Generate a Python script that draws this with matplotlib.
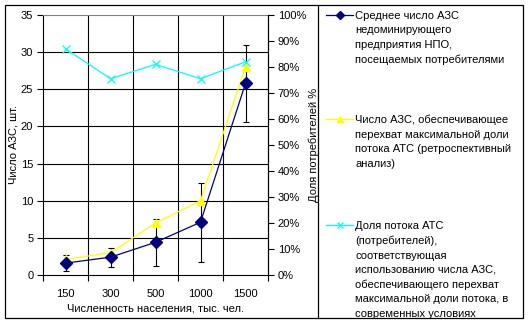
import matplotlib
matplotlib.use("Agg")
import matplotlib.pyplot as plt
from matplotlib.lines import Line2D
from matplotlib.ticker import FuncFormatter, FixedLocator

plt.rcParams['font.family'] = ['Liberation Sans', 'DejaVu Sans']
plt.rcParams['font.size'] = 8

categories = ["150", "300", "500", "1000", "1500"]
avg_stations = [1.6, 2.4, 4.4, 7.1, 25.8]
avg_stations_err = [1.1, 1.3, 3.2, 5.3, 5.2]
max_capture_stations = [2.1, 3.0, 7.0, 10.0, 28.0]
flow_share = [0.87, 0.755, 0.81, 0.755, 0.82]

legend_labels = [
    "Среднее число АЗС\nнедоминирующего\nпредприятия НПО,\nпосещаемых потребителями",
    "Число АЗС, обеспечивающее\nперехват максимальной доли\nпотока АТС (ретроспективный\nанализ)",
    "Доля потока АТС\n(потребителей),\nсоответствующая\nиспользованию числа АЗС,\nобеспечивающего перехват\nмаксимальной доли потока, в\nсовременных условиях",
]

W, H = 529, 325
fig = plt.figure(figsize=(W / 100, H / 100), dpi=100)
fig.patch.set_facecolor("white")

ax = fig.add_axes([43 / W, (H - 275) / H, (268 - 43) / W, (275 - 15) / H])
x = list(range(len(categories)))

ax.set_xlim(-0.5, len(categories) - 0.5)
ax.set_ylim(0, 35)
ax.set_yticks(range(0, 36, 5))
ax.set_xticks(x)
ax.set_xticklabels(categories)
ax.xaxis.set_minor_locator(FixedLocator([i - 0.5 for i in range(len(categories) + 1)]))
ax.tick_params(axis="x", which="major", length=0, pad=10)
ax.tick_params(axis="x", which="minor", length=4, width=0.8, direction="out")
ax.tick_params(axis="y", length=4, width=0.8, direction="out", pad=3)

for yv in range(5, 35, 5):
    ax.axhline(yv, color="black", lw=0.8, zorder=1)
for xv in [i + 0.5 for i in range(len(categories) - 1)]:
    ax.axvline(xv, color="black", lw=0.8, zorder=1)

for s in ["left", "right", "bottom"]:
    ax.spines[s].set_color("black")
    ax.spines[s].set_linewidth(0.8)
ax.spines["top"].set_color("#808080")
ax.spines["top"].set_linewidth(0.8)

ax.errorbar(x, avg_stations, yerr=avg_stations_err, fmt="none", ecolor="black",
            elinewidth=0.8, capsize=2.5, capthick=0.8, zorder=3)
ax.plot(x, max_capture_stations, color="#FFFF00", lw=0.9, marker="^", ms=6,
        mfc="#FFFF00", mec="#FFFF00", zorder=4)
ax.plot(x, avg_stations, color="#000080", lw=0.9, marker="D", ms=6,
        mfc="#000080", mec="#000080", zorder=5)

ax.set_xlabel("Численность населения, тыс. чел.", labelpad=3)
ax.set_ylabel("Число АЗС, шт.", labelpad=2)

ax2 = ax.twinx()
ax2.set_ylim(0, 1)
ax2.set_yticks([i / 10 for i in range(11)])
ax2.yaxis.set_major_formatter(FuncFormatter(lambda v, p: f"{round(v * 100)}%"))
ax2.tick_params(axis="y", length=4, width=0.8, direction="out", pad=3)
ax2.spines["top"].set_visible(False)
ax2.spines["left"].set_visible(False)
ax2.spines["bottom"].set_visible(False)
ax2.spines["right"].set_linewidth(0.8)
ax2.plot(x, flow_share, color="#00FFFF", lw=0.9, marker="x", ms=6, mew=0.9, zorder=4)
ax2.set_ylabel("Доля потребителей %", labelpad=2)

# outer frame and legend divider
fig.add_artist(plt.Rectangle((5 / W, 1 - 318 / H), (523 - 5) / W, (318 - 5) / H,
                             transform=fig.transFigure, fill=False, ec="black", lw=0.9))
fig.add_artist(Line2D([318 / W, 318 / W], [1 - 5 / H, 1 - 318 / H],
                      transform=fig.transFigure, color="black", lw=0.9))

# legend entries
styles = [
    dict(color="#000080", marker="D", ms=4.5, mfc="#000080", mec="#000080"),
    dict(color="#FFFF00", marker="^", ms=4.5, mfc="#FFFF00", mec="#FFFF00"),
    dict(color="#00FFFF", marker="x", ms=4.5, mew=0.9),
]
entry_y = [15, 119, 225]
for style, label, yp in zip(styles, legend_labels, entry_y):
    fy = 1 - yp / H
    fig.add_artist(Line2D([326 / W, 339.5 / W, 353 / W], [fy, fy, fy],
                          transform=fig.transFigure, lw=0.9, markevery=[1], **style))
    fig.text(355 / W, 1 - (yp - 4) / H, label, ha="left", va="top",
             linespacing=1.55, fontsize=8)

fig.savefig("out.png", dpi=100, facecolor="white")
